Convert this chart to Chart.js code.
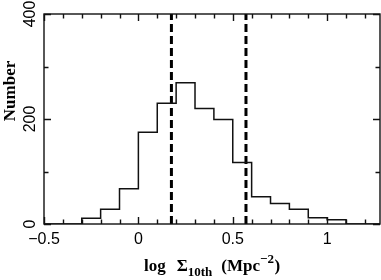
<!DOCTYPE html>
<html><head><meta charset="utf-8">
<script src="https://cdn.jsdelivr.net/npm/chart.js@4/dist/chart.umd.min.js"></script>
<style>html,body{margin:0;padding:0;background:#fff}#wrap{width:381px;height:280px;position:relative}</style>
</head><body><div id="wrap"><canvas id="c"></canvas></div>
<script>
// histogram bins (left edges, width 0.1) and counts
const binEdges = [-0.3,-0.2,-0.1,0.0,0.1,0.2,0.3,0.4,0.5,0.6,0.7,0.8,0.9,1.0];
const binWidth = 0.1;
const counts   = [11,28,67,175,230,269,220,199,117,52,39,28,12,8];
const markers  = [0.175, 0.57];
const xRange   = [-0.5, 1.28];
const yRange   = [0, 400];
const xTickLabels = [-0.5, 0, 0.5, 1];
const yTickLabels = [0, 200, 400];

const stepPts = [{x:xRange[0], y:0}];
binEdges.forEach((e,i)=>stepPts.push({x:e, y:0}, {x:e, y:counts[i]}, {x:e+binWidth, y:counts[i]}));
const lastEdge = binEdges[binEdges.length-1] + binWidth;
stepPts.push({x:lastEdge, y:0});
stepPts.push({x:xRange[1], y:0});
// remove the dips to zero between adjacent bins (keep only boundary transitions)
const histPts = [stepPts[0]];
for (let i = 0; i < binEdges.length; i++) {
  histPts.push({x:binEdges[i], y:(i===0?0:counts[i-1])});
  histPts.push({x:binEdges[i], y:counts[i]});
}
histPts.push({x:lastEdge, y:counts[counts.length-1]});
histPts.push({x:lastEdge, y:0});
histPts.push({x:xRange[1], y:0});

const markerSets = markers.map(m => ({
  data:[{x:m,y:yRange[0]},{x:m,y:yRange[1]}],
  borderColor:'#000', borderWidth:3, borderDash:[8,4], pointRadius:0, fill:false
}));

function fmt(v){ return (v<0?'\u2212':'') + String(Math.abs(v)); }

const axesPlugin = {
  id:'axesPlugin',
  afterDraw(chart){
    const ctx = chart.ctx, xs = chart.scales.x, ys = chart.scales.y, a = chart.chartArea;
    ctx.save();
    ctx.strokeStyle = '#111'; ctx.lineWidth = 1.4;
    ctx.strokeRect(a.left, a.top, a.right - a.left, a.bottom - a.top);
    for (let k = -5; k <= 12; k++) {
      const v = k/10, px = Math.round(xs.getPixelForValue(v)) + 0.5;
      const len = (k % 5 === 0) ? 7 : 4.5;
      ctx.beginPath();
      ctx.moveTo(px, a.bottom); ctx.lineTo(px, a.bottom - len);
      ctx.moveTo(px, a.top); ctx.lineTo(px, a.top + len);
      ctx.stroke();
    }
    for (let v = 0; v <= 400; v += 100) {
      const py = Math.round(ys.getPixelForValue(v)) + 0.5;
      const len = (v % 200 === 0) ? 7 : 4.5;
      ctx.beginPath();
      ctx.moveTo(a.left, py); ctx.lineTo(a.left + len, py);
      ctx.moveTo(a.right, py); ctx.lineTo(a.right - len, py);
      ctx.stroke();
    }
    ctx.fillStyle = '#000';
    ctx.font = '16px "Liberation Sans", Arial, sans-serif';
    ctx.textAlign = 'center'; ctx.textBaseline = 'alphabetic';
    xTickLabels.forEach(v => ctx.fillText(fmt(v), xs.getPixelForValue(v), 244));
    yTickLabels.forEach(v => {
      ctx.save();
      ctx.translate(35, ys.getPixelForValue(v));
      ctx.rotate(-Math.PI/2);
      ctx.fillText(String(v), 0, 0);
      ctx.restore();
    });
    ctx.save();
    ctx.font = 'bold 17px "Liberation Serif", "Times New Roman", serif';
    ctx.translate(15, 91);
    ctx.rotate(-Math.PI/2);
    ctx.fillText('Number', 0, 0);
    ctx.restore();
    const big = 'bold 17px "Liberation Serif", "Times New Roman", serif';
    const small = 'bold 13px "Liberation Serif", "Times New Roman", serif';
    const parts = [
      {t:'log', f:big, dy:0, gap:0},
      {t:'\u03A3', f:big, dy:0, gap:11},
      {t:'10th', f:small, dy:5, gap:0},
      {t:'(Mpc', f:big, dy:0, gap:9},
      {t:'\u22122', f:small, dy:-8, gap:0},
      {t:')', f:big, dy:0, gap:0.5}
    ];
    let total = 0;
    parts.forEach(p => { ctx.font = p.f; p.w = ctx.measureText(p.t).width; total += p.w + p.gap; });
    let cx = (a.left + a.right)/2 - total/2;
    ctx.textAlign = 'left';
    parts.forEach(p => { cx += p.gap; ctx.font = p.f; ctx.fillText(p.t, cx, 271 + p.dy); cx += p.w; });
    ctx.restore();
  }
};

new Chart(document.getElementById('c'), {
  type:'line',
  data:{ datasets:[
    { data:histPts, borderColor:'#111', borderWidth:1.5, pointRadius:0, fill:false, tension:0 },
    ...markerSets
  ]},
  options:{
    responsive:true, maintainAspectRatio:false, animation:false,
    layout:{ padding:{ left:44, right:1, top:14, bottom:56 } },
    plugins:{ legend:{display:false}, tooltip:{enabled:false} },
    scales:{
      x:{ type:'linear', min:xRange[0], max:xRange[1], display:false },
      y:{ type:'linear', min:yRange[0], max:yRange[1], display:false }
    }
  },
  plugins:[axesPlugin]
});
</script>
</body></html>
